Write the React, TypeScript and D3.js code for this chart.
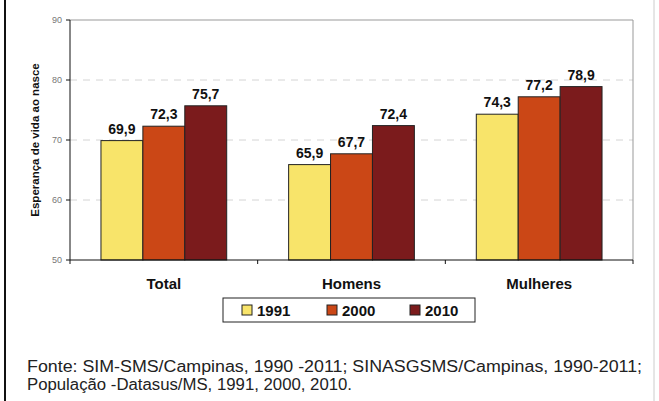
import React from "react";
import * as d3 from "d3";

const categories = ["Total", "Homens", "Mulheres"];
const years = ["1991", "2000", "2010"];
const values1991 = [69.9, 65.9, 74.3];
const values2000 = [72.3, 67.7, 77.2];
const values2010 = [75.7, 72.4, 78.9];
const yTicks = [50, 60, 70, 80, 90];
const yTitle = "Esperança de vida ao nasce";
const sourceLines = [
  "Fonte: SIM-SMS/Campinas, 1990 -2011; SINASGSMS/Campinas, 1990-2011;",
  "População -Datasus/MS, 1991, 2000, 2010.",
];
const sourceWidths = [615, 325];

const W = 659;
const H = 401;
const plot = { left: 70, right: 633, top: 20, bottom: 260 };
const colors = ["#F8E46A", "#CB4716", "#7B1B1C"];
const font = "Arial, 'Liberation Sans', Helvetica, sans-serif";

const seriesValues = [values1991, values2000, values2010];

export default function App() {
  const y = d3.scaleLinear().domain([50, 90]).range([plot.bottom, plot.top]);
  const x0 = d3.scaleBand<string>().domain(categories).range([plot.left, plot.right]);
  const bw = x0.bandwidth();
  const x1 = d3
    .scaleBand<string>()
    .domain(years)
    .range([bw * 0.165, bw * 0.835]);

  const fmt = (v: number) => v.toFixed(1).replace(".", ",");

  const boundaries = d3.range(categories.length + 1).map((i) => plot.left + i * bw);

  const legendX = [242, 327, 410];

  return (
    <svg
      width={W}
      height={H}
      style={{ position: "absolute", left: 0, top: 0, background: "#fff" }}
      fontFamily={font}
    >
      <rect x={0} y={0} width={W} height={H} fill="#fff" />
      {/* outer frame */}
      <line x1={5} y1={0} x2={5} y2={H} stroke="#111" strokeWidth={2} />
      <line x1={654} y1={0} x2={654} y2={H} stroke="#ccc" strokeWidth={1} />

      {/* gridlines */}
      {yTicks
        .filter((t) => t > 50 && t < 90)
        .map((t) => (
          <line
            key={t}
            x1={plot.left}
            x2={plot.right}
            y1={y(t)}
            y2={y(t)}
            stroke="#d4d4d4"
            strokeDasharray="7,6"
          />
        ))}
      {/* plot border top/right */}
      <line x1={plot.left} x2={plot.right} y1={y(90)} y2={y(90)} stroke="#999" />
      <line x1={plot.right} x2={plot.right} y1={y(90)} y2={plot.bottom} stroke="#999" />

      {/* bars */}
      {categories.map((c, ci) => (
        <g key={c} transform={`translate(${x0(c)},0)`}>
          {years.map((yr, si) => {
            const v = seriesValues[si][ci];
            const bx = x1(yr)!;
            const by = y(v);
            return (
              <g key={yr}>
                <rect
                  x={bx}
                  y={by}
                  width={x1.bandwidth()}
                  height={plot.bottom - by}
                  fill={colors[si]}
                  stroke="#222"
                  strokeWidth={1}
                />
                <text
                  x={bx + x1.bandwidth() / 2}
                  y={by - 7}
                  textAnchor="middle"
                  fontSize={14}
                  fontWeight="bold"
                  fill="#111"
                >
                  {fmt(v)}
                </text>
              </g>
            );
          })}
        </g>
      ))}

      {/* axes */}
      <line x1={plot.left} x2={plot.left} y1={plot.top} y2={plot.bottom} stroke="#111" />
      <line x1={plot.left} x2={plot.right} y1={plot.bottom} y2={plot.bottom} stroke="#111" />
      {yTicks.map((t) => (
        <g key={t}>
          <line x1={plot.left - 4} x2={plot.left} y1={y(t)} y2={y(t)} stroke="#111" />
          <text
            x={plot.left - 8}
            y={y(t)}
            dy="0.35em"
            textAnchor="end"
            fontSize={9}
            fill="#777"
          >
            {t}
          </text>
        </g>
      ))}
      {boundaries.map((b, i) => (
        <line key={i} x1={b} x2={b} y1={plot.bottom} y2={plot.bottom + 4} stroke="#111" />
      ))}
      {categories.map((c) => (
        <text
          key={c}
          x={x0(c)! + bw / 2}
          y={289}
          textAnchor="middle"
          fontSize={15}
          fontWeight="bold"
          fill="#111"
        >
          {c}
        </text>
      ))}

      {/* y title */}
      <text
        transform={`translate(39,${(plot.top + plot.bottom) / 2}) rotate(-90)`}
        textAnchor="middle"
        fontSize={11.5}
        fontWeight="bold"
        fill="#111"
      >
        {yTitle}
      </text>

      {/* legend */}
      <rect x={223} y={298} width={252} height={24} fill="#fff" stroke="#222" />
      {years.map((yr, i) => (
        <g key={yr}>
          <rect
            x={legendX[i]}
            y={305}
            width={10}
            height={10}
            fill={colors[i]}
            stroke="#222"
          />
          <text
            x={legendX[i] + 15}
            y={315.5}
            fontSize={15}
            fontWeight="bold"
            fill="#111"
          >
            {yr}
          </text>
        </g>
      ))}

      {/* source note */}
      {sourceLines.map((s, i) => (
        <text
          key={i}
          x={27}
          y={372 + i * 18}
          fontSize={16}
          fill="#222"
          textLength={sourceWidths[i]}
          lengthAdjust="spacingAndGlyphs"
        >
          {s}
        </text>
      ))}
    </svg>
  );
}
